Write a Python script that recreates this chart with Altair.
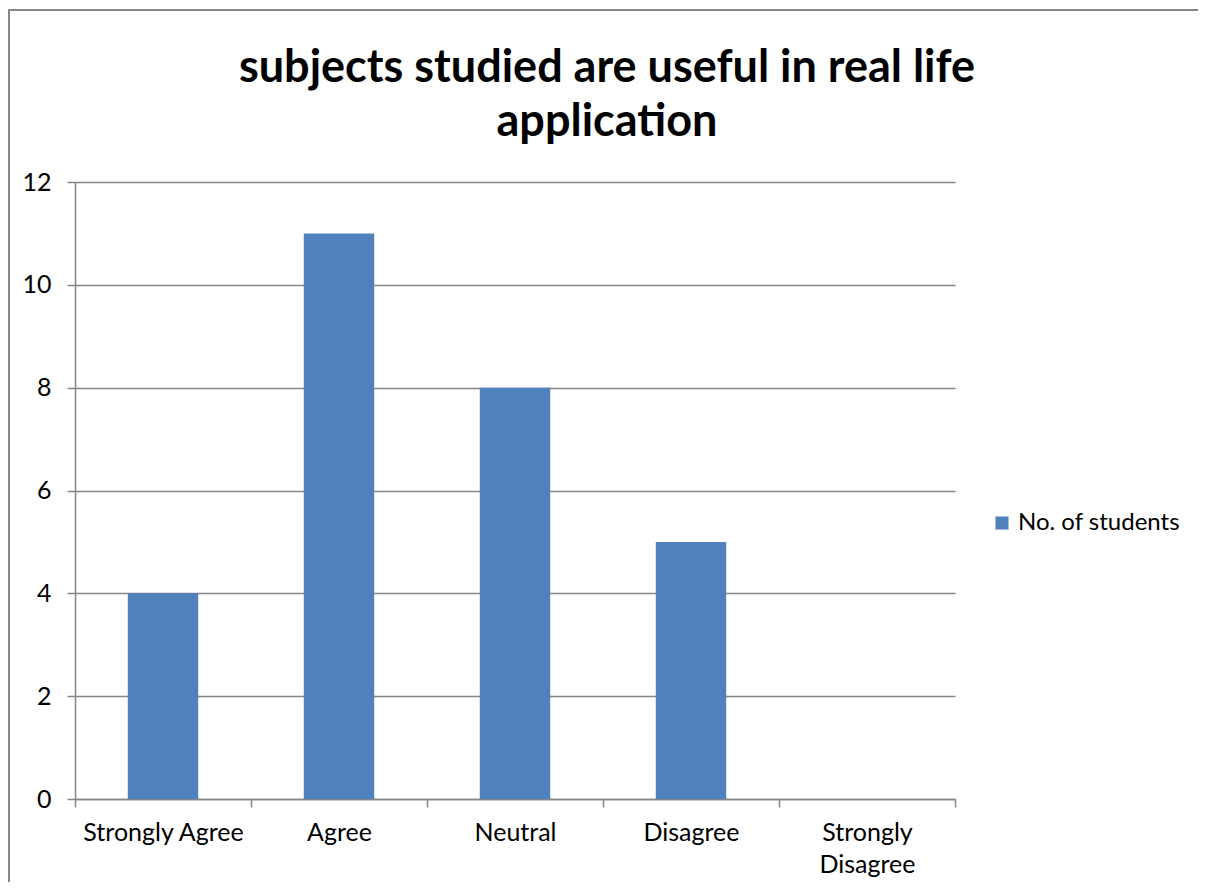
import altair as alt
import pandas as pd

categories = ["Strongly Agree", "Agree", "Neutral", "Disagree", "Strongly Disagree"]
values = [4, 11, 8, 5, 0]
series_name = "No. of students"
y_ticks = [0, 2, 4, 6, 8, 10, 12]

df = pd.DataFrame({"category": categories, "value": values, "series": [series_name] * len(categories)})

FONT = "Lato"
GRAY = "#868686"
LBL = 25

bars = alt.Chart(df).mark_bar(color="#4F81BD", width=alt.RelativeBandSize(0.4)).encode(
    x=alt.X(
        "category:N",
        sort=categories,
        scale=alt.Scale(paddingInner=0, paddingOuter=0),
        axis=alt.Axis(
            title=None,
            labelAngle=0,
            labelFontSize=LBL,
            labelFont=FONT,
            labelColor="#000000",
            labelPadding=13,
            labelLineHeight=32,
            labelExpr="datum.label == 'Strongly Disagree' ? ['Strongly', 'Disagree'] : datum.label",
            tickBand="extent",
            tickSize=8,
            tickColor=GRAY,
            tickWidth=1.5,
            domainColor=GRAY,
            domainWidth=1.5,
            grid=False,
        ),
    ),
    y=alt.Y(
        "value:Q",
        scale=alt.Scale(domain=[0, 12], nice=False),
        axis=alt.Axis(
            title=None,
            values=y_ticks,
            labelFontSize=LBL,
            labelFont=FONT,
            labelColor="#000000",
            labelPadding=16,
            tickSize=8,
            tickColor=GRAY,
            tickWidth=1.5,
            domainColor=GRAY,
            domainWidth=1.5,
            gridColor=GRAY,
            gridWidth=1.5,
        ),
    ),
    color=alt.Color(
        "series:N",
        scale=alt.Scale(range=["#4F81BD"]),
        legend=alt.Legend(
            title=None,
            orient="none",
            legendX=915,
            legendY=329,
            symbolType="square",
            symbolSize=170,
            symbolStrokeWidth=0,
            labelFontSize=24,
            labelFont=FONT,
            labelColor="#000000",
            labelOffset=4,
            labelLimit=400,
        ),
    ),
)

border = alt.Chart(df).mark_rect(fill=None, stroke=GRAY, strokeWidth=1.5).encode(
    x=alt.value(-66),
    x2=alt.value(1140),
    y=alt.value(-172),
    y2=alt.value(760),
)

chart = alt.layer(border, bars).properties(
    width=880,
    height=617,
    autosize=alt.AutoSizeParams(type="none"),
    padding={"left": 67, "top": 174, "right": 243, "bottom": 83},
    title=alt.TitleParams(
        text=["subjects studied are useful in real life", "application"],
        fontSize=45,
        font=FONT,
        fontWeight="bold",
        color="#000000",
        lineHeight=54,
        anchor="middle",
        dx=92,
        offset=-136,
    ),
).configure_view(stroke=None)

chart.save("out.html", embed_options={"renderer": "svg", "actions": False})
